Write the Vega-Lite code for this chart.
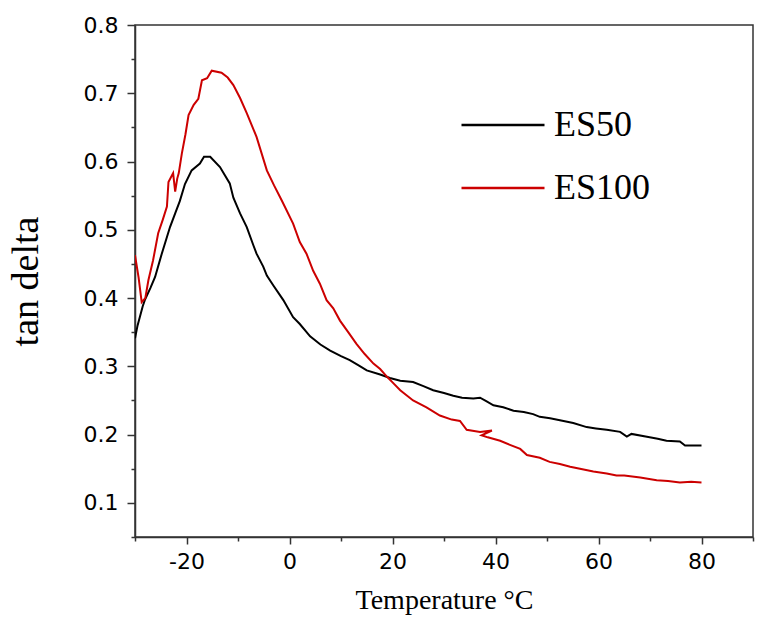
{
  "$schema": "https://vega.github.io/schema/vega-lite/v6.json",
  "width": 618,
  "height": 512,
  "autosize": {"type": "none"},
  "padding": {"left": 135, "top": 25, "right": 6, "bottom": 88},
  "background": "white",
  "config": {
    "view": {"stroke": "#333333", "strokeWidth": 1.5},
    "axis": {"grid": false, "domainColor": "#333333", "domainWidth": 1.5, "tickColor": "#333333", "tickWidth": 1.5, "labelFont": "DejaVu Sans", "labelFontSize": 22, "labelColor": "#000000", "titleFont": "Liberation Serif", "titleFontWeight": "normal", "titleColor": "#000000"}
  },
  "data": {"values": [
    {"s":"ES50","k":1,"T":-30,"v":0.341},{"s":"ES50","k":2,"T":-29.5,"v":0.360},{"s":"ES50","k":3,"T":-28.5,"v":0.388},{"s":"ES50","k":4,"T":-28.1,"v":0.397},{"s":"ES50","k":5,"T":-27,"v":0.415},{"s":"ES50","k":6,"T":-26.1,"v":0.431},{"s":"ES50","k":7,"T":-24.8,"v":0.465},{"s":"ES50","k":8,"T":-23.2,"v":0.504},{"s":"ES50","k":9,"T":-22.2,"v":0.524},{"s":"ES50","k":10,"T":-21.3,"v":0.542},{"s":"ES50","k":11,"T":-20.3,"v":0.567},{"s":"ES50","k":12,"T":-19.0,"v":0.587},{"s":"ES50","k":13,"T":-17.4,"v":0.597},{"s":"ES50","k":14,"T":-16.6,"v":0.607},{"s":"ES50","k":15,"T":-15.4,"v":0.607},{"s":"ES50","k":16,"T":-13.5,"v":0.592},{"s":"ES50","k":17,"T":-11.6,"v":0.568},{"s":"ES50","k":18,"T":-10.9,"v":0.547},{"s":"ES50","k":19,"T":-9.6,"v":0.524},{"s":"ES50","k":20,"T":-8.3,"v":0.504},{"s":"ES50","k":21,"T":-7.0,"v":0.477},{"s":"ES50","k":22,"T":-6.4,"v":0.465},{"s":"ES50","k":23,"T":-5.1,"v":0.446},{"s":"ES50","k":24,"T":-4.4,"v":0.433},{"s":"ES50","k":25,"T":-3.1,"v":0.418},{"s":"ES50","k":26,"T":-1.2,"v":0.397},{"s":"ES50","k":27,"T":0.7,"v":0.372},{"s":"ES50","k":28,"T":2.0,"v":0.362},{"s":"ES50","k":29,"T":4.0,"v":0.344},{"s":"ES50","k":30,"T":6.0,"v":0.332},{"s":"ES50","k":31,"T":7.9,"v":0.323},{"s":"ES50","k":32,"T":10.0,"v":0.315},{"s":"ES50","k":33,"T":11.7,"v":0.309},{"s":"ES50","k":34,"T":13.5,"v":0.301},{"s":"ES50","k":35,"T":15.0,"v":0.294},{"s":"ES50","k":36,"T":17.6,"v":0.288},{"s":"ES50","k":37,"T":19.5,"v":0.283},{"s":"ES50","k":38,"T":21.5,"v":0.279},{"s":"ES50","k":39,"T":24.0,"v":0.277},{"s":"ES50","k":40,"T":26.0,"v":0.271},{"s":"ES50","k":41,"T":27.9,"v":0.265},{"s":"ES50","k":42,"T":30.0,"v":0.261},{"s":"ES50","k":43,"T":31.8,"v":0.257},{"s":"ES50","k":44,"T":33.5,"v":0.254},{"s":"ES50","k":45,"T":35.7,"v":0.253},{"s":"ES50","k":46,"T":37.0,"v":0.254},{"s":"ES50","k":47,"T":38.2,"v":0.249},{"s":"ES50","k":48,"T":39.6,"v":0.243},{"s":"ES50","k":49,"T":41.5,"v":0.240},{"s":"ES50","k":50,"T":43.5,"v":0.235},{"s":"ES50","k":51,"T":45.5,"v":0.233},{"s":"ES50","k":52,"T":47.3,"v":0.230},{"s":"ES50","k":53,"T":48.6,"v":0.226},{"s":"ES50","k":54,"T":50.6,"v":0.224},{"s":"ES50","k":55,"T":52.5,"v":0.221},{"s":"ES50","k":56,"T":55.1,"v":0.217},{"s":"ES50","k":57,"T":57.7,"v":0.211},{"s":"ES50","k":58,"T":59.5,"v":0.209},{"s":"ES50","k":59,"T":61.6,"v":0.207},{"s":"ES50","k":60,"T":64.2,"v":0.204},{"s":"ES50","k":61,"T":65.5,"v":0.197},{"s":"ES50","k":62,"T":66.4,"v":0.201},{"s":"ES50","k":63,"T":69.4,"v":0.197},{"s":"ES50","k":64,"T":71.5,"v":0.194},{"s":"ES50","k":65,"T":73.2,"v":0.191},{"s":"ES50","k":66,"T":75.8,"v":0.190},{"s":"ES50","k":67,"T":76.8,"v":0.184},{"s":"ES50","k":68,"T":80.0,"v":0.184},
    {"s":"ES100","k":1,"T":-30,"v":0.463},{"s":"ES100","k":2,"T":-29.3,"v":0.430},{"s":"ES100","k":3,"T":-28.7,"v":0.394},{"s":"ES100","k":4,"T":-28.0,"v":0.400},{"s":"ES100","k":5,"T":-27.4,"v":0.426},{"s":"ES100","k":6,"T":-26.5,"v":0.455},{"s":"ES100","k":7,"T":-25.5,"v":0.495},{"s":"ES100","k":8,"T":-24.6,"v":0.515},{"s":"ES100","k":9,"T":-23.8,"v":0.534},{"s":"ES100","k":10,"T":-23.5,"v":0.570},{"s":"ES100","k":11,"T":-22.6,"v":0.583},{"s":"ES100","k":12,"T":-22.2,"v":0.556},{"s":"ES100","k":13,"T":-21.8,"v":0.575},{"s":"ES100","k":14,"T":-21.5,"v":0.583},{"s":"ES100","k":15,"T":-20.9,"v":0.612},{"s":"ES100","k":16,"T":-20.2,"v":0.640},{"s":"ES100","k":17,"T":-19.6,"v":0.668},{"s":"ES100","k":18,"T":-18.6,"v":0.683},{"s":"ES100","k":19,"T":-17.7,"v":0.692},{"s":"ES100","k":20,"T":-17.0,"v":0.719},{"s":"ES100","k":21,"T":-16.0,"v":0.722},{"s":"ES100","k":22,"T":-15.1,"v":0.733},{"s":"ES100","k":23,"T":-13.2,"v":0.730},{"s":"ES100","k":24,"T":-12.0,"v":0.723},{"s":"ES100","k":25,"T":-10.9,"v":0.712},{"s":"ES100","k":26,"T":-9.6,"v":0.693},{"s":"ES100","k":27,"T":-8.3,"v":0.671},{"s":"ES100","k":28,"T":-6.4,"v":0.636},{"s":"ES100","k":29,"T":-4.4,"v":0.587},{"s":"ES100","k":30,"T":-3.0,"v":0.565},{"s":"ES100","k":31,"T":-1.5,"v":0.543},{"s":"ES100","k":32,"T":0.7,"v":0.509},{"s":"ES100","k":33,"T":2.0,"v":0.482},{"s":"ES100","k":34,"T":3.3,"v":0.465},{"s":"ES100","k":35,"T":4.6,"v":0.440},{"s":"ES100","k":36,"T":5.9,"v":0.421},{"s":"ES100","k":37,"T":7.2,"v":0.397},{"s":"ES100","k":38,"T":8.5,"v":0.385},{"s":"ES100","k":39,"T":9.8,"v":0.367},{"s":"ES100","k":40,"T":11.5,"v":0.349},{"s":"ES100","k":41,"T":13.0,"v":0.333},{"s":"ES100","k":42,"T":14.6,"v":0.318},{"s":"ES100","k":43,"T":16.3,"v":0.304},{"s":"ES100","k":44,"T":17.6,"v":0.296},{"s":"ES100","k":45,"T":18.9,"v":0.285},{"s":"ES100","k":46,"T":20.2,"v":0.275},{"s":"ES100","k":47,"T":21.5,"v":0.265},{"s":"ES100","k":48,"T":24.0,"v":0.250},{"s":"ES100","k":49,"T":26.6,"v":0.240},{"s":"ES100","k":50,"T":29.2,"v":0.228},{"s":"ES100","k":51,"T":31.5,"v":0.222},{"s":"ES100","k":52,"T":33.1,"v":0.220},{"s":"ES100","k":53,"T":34.4,"v":0.207},{"s":"ES100","k":54,"T":37.0,"v":0.204},{"s":"ES100","k":55,"T":39.3,"v":0.206},{"s":"ES100","k":56,"T":37.3,"v":0.199},{"s":"ES100","k":57,"T":38.5,"v":0.196},{"s":"ES100","k":58,"T":40.9,"v":0.191},{"s":"ES100","k":59,"T":42.8,"v":0.185},{"s":"ES100","k":60,"T":44.8,"v":0.179},{"s":"ES100","k":61,"T":46.1,"v":0.170},{"s":"ES100","k":62,"T":48.6,"v":0.166},{"s":"ES100","k":63,"T":50.5,"v":0.160},{"s":"ES100","k":64,"T":52.5,"v":0.157},{"s":"ES100","k":65,"T":54.5,"v":0.153},{"s":"ES100","k":66,"T":56.4,"v":0.150},{"s":"ES100","k":67,"T":59.0,"v":0.146},{"s":"ES100","k":68,"T":61.6,"v":0.143},{"s":"ES100","k":69,"T":63.5,"v":0.140},{"s":"ES100","k":70,"T":65.0,"v":0.140},{"s":"ES100","k":71,"T":68.1,"v":0.137},{"s":"ES100","k":72,"T":71.3,"v":0.133},{"s":"ES100","k":73,"T":73.5,"v":0.132},{"s":"ES100","k":74,"T":75.8,"v":0.130},{"s":"ES100","k":75,"T":78.0,"v":0.131},{"s":"ES100","k":76,"T":80.0,"v":0.130}
  ]},
  "mark": {"type": "line", "strokeWidth": 2, "clip": true},
  "encoding": {
    "x": {
      "field": "T", "type": "quantitative",
      "scale": {"domain": [-30, 90], "nice": false, "zero": false},
      "axis": {
        "title": "Temperature °C", "titleFontSize": 28, "titlePadding": 14,
        "values": [-30, -20, -10, 0, 10, 20, 30, 40, 50, 60, 70, 80, 90],
        "labelExpr": "datum.value % 20 === 0 && datum.value > -30 && datum.value < 90 ? toString(datum.value) : ''",
        "tickSize": {"condition": {"test": "datum.value % 20 === 0", "value": 7}, "value": 4},
        "labelPadding": 7, "labelFlush": false
      }
    },
    "y": {
      "field": "v", "type": "quantitative",
      "scale": {"domain": [0.05, 0.8], "nice": false, "zero": false},
      "axis": {
        "title": "tan delta", "titleFontSize": 38, "titlePadding": 38,
        "values": [0.05, 0.1, 0.15, 0.2, 0.25, 0.3, 0.35, 0.4, 0.45, 0.5, 0.55, 0.6, 0.65, 0.7, 0.75, 0.8],
        "format": ".1f",
        "labelExpr": "round(datum.value * 100) % 10 === 0 ? datum.label : ''",
        "tickSize": {"condition": {"test": "round(datum.value * 100) % 10 === 0", "value": 8}, "value": 4},
        "labelPadding": 9, "labelFlush": false
      }
    },
    "color": {
      "field": "s", "type": "nominal",
      "scale": {"domain": ["ES50", "ES100"], "range": ["#000000", "#cc0000"]},
      "legend": {
        "title": null, "orient": "none", "legendX": 325, "legendY": 57,
        "symbolType": "stroke", "symbolSize": 6889, "symbolStrokeWidth": 2.5,
        "labelFont": "Liberation Serif", "labelFontSize": 36, "labelColor": "#000000",
        "labelOffset": 8, "padding": 0
      }
    },
    "order": {"field": "k", "type": "quantitative"}
  }
}
